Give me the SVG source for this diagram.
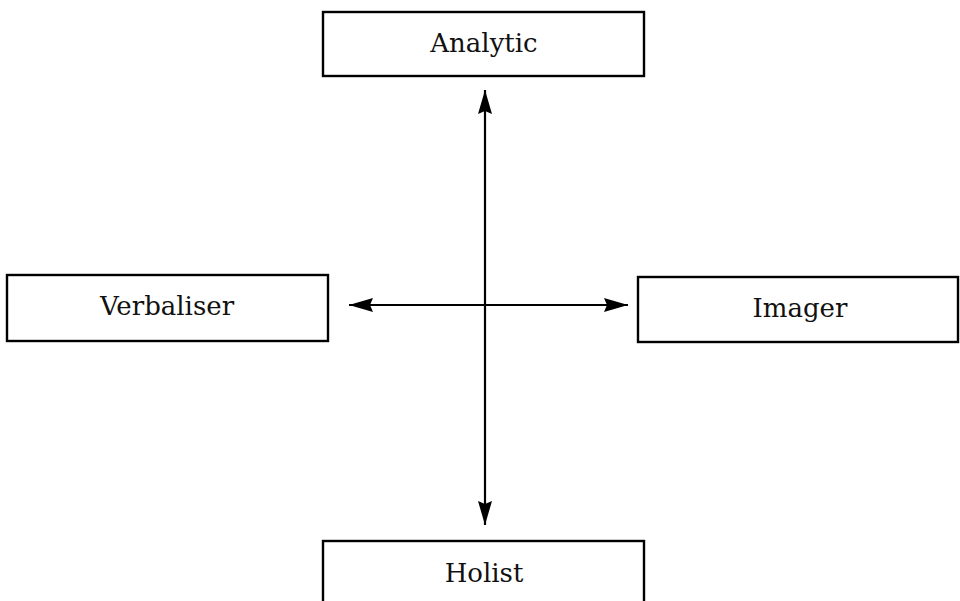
<svg xmlns="http://www.w3.org/2000/svg" width="960" height="601" viewBox="0 0 960 601">
<style>
.box{fill:#fff;stroke:#000;stroke-width:2.4}
.lbl{font-family:"DejaVu Serif","Liberation Serif",serif;font-size:26px;fill:#111;text-anchor:middle}
.conn{stroke:#000;stroke-width:2.2;fill:none;marker-start:url(#ah);marker-end:url(#ah)}
</style>
<defs>
<marker id="ah" viewBox="0 0 24 16" refX="24" refY="8" markerWidth="24" markerHeight="16" markerUnits="userSpaceOnUse" orient="auto-start-reverse">
<path d="M0,1 L24,8 L0,15 L3,8 Z" fill="#000"/>
</marker>
</defs>
<rect width="960" height="601" fill="#fff"/>
<g id="connectors">
<line class="conn" x1="485" y1="90" x2="485" y2="525"/>
<line class="conn" x1="349" y1="305" x2="628" y2="305"/>
</g>
<g id="analytic"><rect class="box" x="323" y="12" width="321" height="64"/><text class="lbl" x="484" y="52">Analytic</text></g>
<g id="verbaliser"><rect class="box" x="7" y="275" width="321" height="66"/><text class="lbl" x="167" y="315">Verbaliser</text></g>
<g id="imager"><rect class="box" x="638" y="277" width="320" height="65"/><text class="lbl" x="800" y="317">Imager</text></g>
<g id="holist"><rect class="box" x="323" y="541" width="321" height="80"/><text class="lbl" x="484" y="582">Holist</text></g>
</svg>
